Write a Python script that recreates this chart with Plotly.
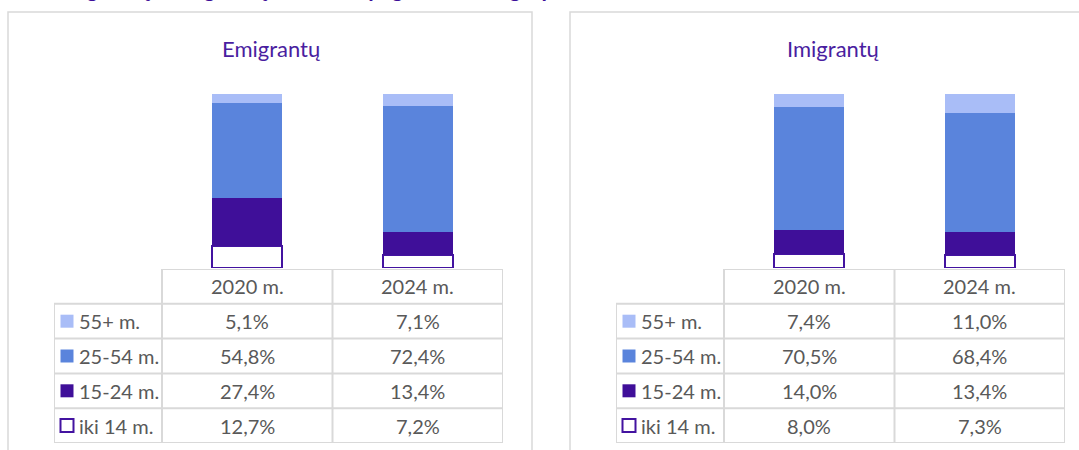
import plotly.graph_objects as go

# ---------------- data ----------------
years = ["2020 m.", "2024 m."]
groups = ["iki 14 m.", "15-24 m.", "25-54 m.", "55+ m."]  # bottom -> top of stack
emig_2020 = [12.7, 27.4, 54.8, 5.1]
emig_2024 = [7.2, 13.4, 72.4, 7.1]
imig_2020 = [8.0, 14.0, 70.5, 7.4]
imig_2024 = [7.3, 13.4, 68.4, 11.0]
panel_titles = ["Emigrantų", "Imigrantų"]
main_title = "Emigrantų ir imigrantų struktūra pagal amžiaus grupes"

# ---------------- style ----------------
W, H = 1079, 450
FONT = "Lato"
TXT = "#595959"
PURPLE = "#4a1ea0"
GRID = "#d9d9d9"
fills = ["#ffffff", "#3f0f99", "#5a84dc", "#a9bdf7"]
lines = ["#4313a0", "#3f0f99", "#5a84dc", "#a9bdf7"]
lwidth = [2, 0, 0, 0]

COLW = 170.5          # px per category column
LEGW = 108 / COLW     # legend column width in x units


def px_x(p):
    return p / W


def px_y(p):
    return (H - p) / H


panels = [
    dict(left=54, title_x=271, data=[emig_2020, emig_2024], border=(8, 532)),
    dict(left=616, title_x=833, data=[imig_2020, imig_2024], border=(570, 1090)),
]

fig = go.Figure()
shapes = []
annotations = []
layout_axes = {}

for pi, pn in enumerate(panels):
    xa = "x" if pi == 0 else "x2"
    yb = "y" if pi == 0 else "y3"      # bars
    yt = "y2" if pi == 0 else "y4"     # table
    xname = "xaxis" if pi == 0 else "xaxis2"
    ybname = "yaxis" if pi == 0 else "yaxis3"
    ytname = "yaxis2" if pi == 0 else "yaxis4"
    x0px = pn["left"]
    x1px = x0px + 108 + 2 * COLW
    xmin = -0.5 - LEGW
    layout_axes[xname] = dict(domain=[px_x(x0px), px_x(x1px)], range=[xmin, 1.5],
                              visible=False, fixedrange=True)
    layout_axes[ybname] = dict(domain=[px_y(268), px_y(94)], range=[0, 100],
                               visible=False, anchor=xa, fixedrange=True)
    layout_axes[ytname] = dict(domain=[px_y(443), px_y(269)], range=[0, 5],
                               visible=False, anchor=xa, fixedrange=True)

    xs = list(range(len(years)))
    # stacked bars
    for gi, g in enumerate(groups):
        vals = [pn["data"][yi][gi] for yi in range(len(years))]
        fig.add_trace(go.Bar(
            x=xs, y=vals, width=0.41, xaxis=xa, yaxis=yb, name=g,
            marker=dict(color=fills[gi], line=dict(color=lines[gi], width=lwidth[gi])),
            showlegend=False, hoverinfo="skip"))

    # table: legend markers
    nrows = len(groups)
    fig.add_trace(go.Scatter(
        x=[xmin + 13 / COLW] * nrows,
        y=[gi + 0.5 for gi in range(nrows)],
        xaxis=xa, yaxis=yt, mode="markers", showlegend=False, hoverinfo="skip",
        marker=dict(symbol="square", size=13, color=fills,
                    line=dict(color=[lines[0], fills[1], fills[2], fills[3]], width=[2, 0, 0, 0]))))

    for gi, g in enumerate(groups):
        r = gi + 0.5
        annotations.append(dict(x=xmin + 23 / COLW, y=r, xref=xa, yref=yt, text=g,
                                showarrow=False, xanchor="left", yanchor="middle",
                                font=dict(family=FONT, size=20, color=TXT)))
        for yi in range(len(years)):
            v = pn["data"][yi][gi]
            annotations.append(dict(x=xs[yi], y=r, xref=xa, yref=yt,
                                    text=f"{v:.1f}".replace(".", ",") + "%",
                                    showarrow=False, xanchor="center", yanchor="middle",
                                    font=dict(family=FONT, size=20, color=TXT)))
    for yi, yl in enumerate(years):
        annotations.append(dict(x=xs[yi], y=nrows + 0.5, xref=xa, yref=yt, text=yl,
                                showarrow=False, xanchor="center", yanchor="middle",
                                font=dict(family=FONT, size=20, color=TXT)))

    # table grid lines
    ln = dict(color=GRID, width=2)
    shapes.append(dict(type="line", xref=xa, yref=yt, x0=-0.5, x1=1.5, y0=nrows + 1, y1=nrows + 1, line=ln))
    for r in range(nrows + 1):
        shapes.append(dict(type="line", xref=xa, yref=yt, x0=xmin, x1=1.5, y0=r, y1=r, line=ln))
    shapes.append(dict(type="line", xref=xa, yref=yt, x0=xmin, x1=xmin, y0=0, y1=nrows, line=ln))
    for xv in [-0.5, 0.5, 1.5]:
        shapes.append(dict(type="line", xref=xa, yref=yt, x0=xv, x1=xv, y0=0, y1=nrows + 1, line=ln))

    # panel border
    b0, b1 = pn["border"]
    shapes.append(dict(type="rect", xref="paper", yref="paper", x0=px_x(b0), x1=px_x(b1),
                       y0=px_y(12), y1=px_y(470), line=dict(color=GRID, width=1.5),
                       fillcolor="rgba(0,0,0,0)", layer="below"))

    annotations.append(dict(x=px_x(pn["title_x"]), y=px_y(48), xref="paper", yref="paper",
                            text=panel_titles[pi], showarrow=False, xanchor="center",
                            yanchor="middle", font=dict(family=FONT, size=22, color=PURPLE)))

# cut-off main title at the very top (only its lower edge shows, as in the reference)
annotations.append(dict(x=px_x(48), y=1, xref="paper", yref="paper", text="<b>" + main_title + "</b>",
                        showarrow=False, xanchor="left", yanchor="bottom", yshift=-4,
                        font=dict(family=FONT, size=22, color="#3c0f99")))

fig.update_layout(
    width=W, height=H, margin=dict(l=0, r=0, t=0, b=0),
    paper_bgcolor="white", plot_bgcolor="white",
    barmode="stack", bargap=0, showlegend=False,
    shapes=shapes, annotations=annotations, **layout_axes)

fig.write_html("out.html", config={"displayModeBar": False},
               post_script="document.body.style.margin='0';document.body.style.overflow='hidden';")
